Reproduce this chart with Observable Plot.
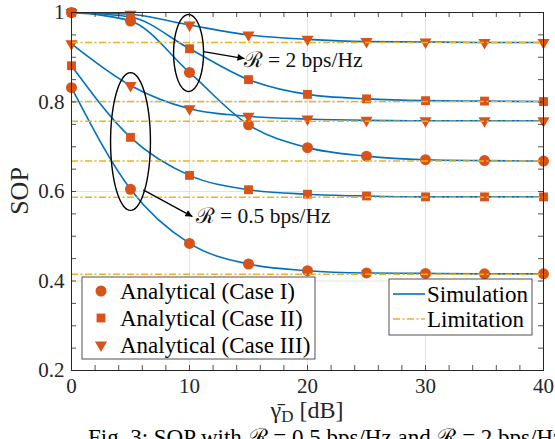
<!DOCTYPE html>
<html><head><meta charset="utf-8">
<script src="https://cdn.jsdelivr.net/npm/d3@7"></script>
<script src="https://cdn.jsdelivr.net/npm/@observablehq/plot@0.6"></script>
<style>
html,body{margin:0;padding:0;background:#fff;overflow:hidden;width:555px;height:439px;}
#chart{position:absolute;left:0;top:0;}
#chart svg, #chart svg text{font-family:"Liberation Serif",serif;}
#caption{font-family:"Liberation Serif",serif;font-size:23px;line-height:23px;position:absolute;left:88px;top:426px;white-space:nowrap;color:#000;}
</style></head><body>
<div id="chart"></div>
<div id="caption">Fig. 3: SOP with ℛ = 0.5 bps/Hz and ℛ = 2 bps/Hz.</div>
<script>
// ---- data ----
const snr = [0, 5, 10, 15, 20, 25, 30, 35, 40];
// R = 2 bps/Hz
const sopR2CaseI   = [1.000, 0.981, 0.866, 0.749, 0.698, 0.679, 0.671, 0.669, 0.668];
const sopR2CaseII  = [1.000, 0.990, 0.919, 0.850, 0.817, 0.807, 0.803, 0.802, 0.801];
const sopR2CaseIII = [1.000, 0.996, 0.972, 0.950, 0.940, 0.935, 0.934, 0.933, 0.933];
// R = 0.5 bps/Hz
const sopR05CaseI   = [0.832, 0.605, 0.484, 0.438, 0.423, 0.418, 0.417, 0.416, 0.416];
const sopR05CaseII  = [0.881, 0.721, 0.636, 0.604, 0.594, 0.590, 0.588, 0.588, 0.588];
const sopR05CaseIII = [0.930, 0.837, 0.785, 0.768, 0.762, 0.759, 0.758, 0.758, 0.758];
// asymptotic limits (Case I, II, III)
const limitR2  = [0.668, 0.801, 0.933];
const limitR05 = [0.415, 0.587, 0.757];

const caseNames = ["Case I", "Case II", "Case III"];
const legendLabels = ["Analytical (Case I)", "Analytical (Case II)", "Analytical (Case III)"];
const xTicks = [0, 10, 20, 30, 40];
const yTicks = [0.2, 0.4, 0.6, 0.8, 1.0];

// annotations (data units)
const ellipseCx = [9.92, 5.0];
const ellipseCy = [0.9095, 0.7117];
const ellipseRx = [1.27, 1.69];
const ellipseRy = [0.086, 0.154];
const arrowX1 = [11.19, 6.08];
const arrowY1 = [0.9128, 0.6037];
const arrowX2 = [14.66, 10.25];
const arrowY2 = [0.8970, 0.5440];
const noteX = [14.58, 10.51];
const noteY = [0.8793, 0.5285];
const noteText = ["ℛ = 2 bps/Hz", "ℛ = 0.5 bps/Hz"];

// ---- build tables ----
const seriesList = [
  {rate: "R2", c: 0, v: sopR2CaseI}, {rate: "R2", c: 1, v: sopR2CaseII}, {rate: "R2", c: 2, v: sopR2CaseIII},
  {rate: "R05", c: 0, v: sopR05CaseI}, {rate: "R05", c: 1, v: sopR05CaseII}, {rate: "R05", c: 2, v: sopR05CaseIII}
];
const rows = seriesList.flatMap(s => s.v.map((y, i) => ({x: snr[i], y, key: s.rate + s.c, c: caseNames[s.c]})));
const limits = [...limitR2, ...limitR05];

const ellipsePts = ellipseCx.flatMap((cx, k) => d3.range(0, 73).map(i => {
  const t = i / 72 * 2 * Math.PI;
  return {k, x: cx + ellipseRx[k] * Math.cos(t), y: ellipseCy[k] + ellipseRy[k] * Math.sin(t)};
}));
const arrows = arrowX1.map((x1, i) => ({x1, y1: arrowY1[i], x2: arrowX2[i], y2: arrowY2[i]}));
const notes = noteX.map((x, i) => ({x, y: noteY[i], t: noteText[i]}));

const W = 555, H = 425, ML = 71, MR = 12, MT = 12, MB = 55;
const PW = W - ML - MR, PH = H - MT - MB;
const TL = 5;
const ink = "#262626";
const orange = "#D95319", blue = "#0072BD", yellow = "#EDB120";
const font = "'Liberation Serif', serif";

const plot = Plot.plot({
  width: W, height: H,
  marginLeft: ML, marginRight: MR, marginTop: MT, marginBottom: MB,
  style: {fontFamily: font, background: "#fff", overflow: "visible"},
  x: {domain: [0, 40]},
  y: {domain: [0.2, 1]},
  marks: [
    Plot.gridX([10, 20, 30], {stroke: "#e3e3e3", strokeOpacity: 1, strokeWidth: 1}),
    Plot.gridY([0.4, 0.6, 0.8], {stroke: "#e3e3e3", strokeOpacity: 1, strokeWidth: 1}),
    Plot.line(rows, {x: "x", y: "y", z: "key", stroke: blue, strokeWidth: 1.6, curve: "monotone-x"}),
    Plot.dot(rows.filter(d => d.c === "Case II"), {x: "x", y: "y", symbol: "square", r: 5, fill: orange}),
    Plot.dot(rows.filter(d => d.c === "Case III"), {x: "x", y: "y", symbol: "triangle", rotate: 180, r: 4.5, fill: orange}),
    Plot.dot(rows.filter(d => d.c === "Case I"), {x: "x", y: "y", symbol: "circle", r: 5.5, fill: orange}),
    Plot.ruleY(limits, {stroke: yellow, strokeWidth: 1.6, strokeDasharray: "7,2.5,2,2.5"}),
    Plot.line(ellipsePts, {x: "x", y: "y", z: "k", stroke: "#000", strokeWidth: 1.4, curve: "linear-closed"}),
    Plot.link(arrows, {x1: "x1", y1: "y1", x2: "x2", y2: "y2", stroke: "#000", strokeWidth: 1.3}),
    Plot.text(notes, {x: "x", y: "y", text: "t", textAnchor: "start", lineAnchor: "bottom", fontSize: 21.5, fill: "#111"}),
    // inward ticks on all four sides
    Plot.tickX(d3.range(0, 41, 2), {x: d => d, insetTop: PH - TL, stroke: ink, strokeWidth: 0.8}),
    Plot.tickX(d3.range(0, 41, 2), {x: d => d, insetBottom: PH - TL, stroke: ink, strokeWidth: 0.8}),
    Plot.tickY(d3.range(0, 17).map(i => 0.2 + i * 0.05), {y: d => d, insetRight: PW - TL, stroke: ink, strokeWidth: 0.8}),
    Plot.tickY(d3.range(0, 17).map(i => 0.2 + i * 0.05), {y: d => d, insetLeft: PW - TL, stroke: ink, strokeWidth: 0.8}),
    Plot.frame({stroke: ink, strokeWidth: 1}),
    Plot.axisX(xTicks, {tickSize: 0, tickPadding: 8, fontSize: 21, fill: ink, label: null, tickFormat: d => String(d)}),
    Plot.axisY(yTicks, {tickSize: 0, tickPadding: 7, fontSize: 21, fill: ink, label: null, tickFormat: d => (Math.abs(d - 1) < 1e-9 ? "1" : d.toFixed(1))})
  ]
});
document.getElementById("chart").appendChild(plot);

const svg = d3.select(plot);
// arrowheads
const defs = svg.insert("defs", ":first-child");
defs.append("marker").attr("id", "ahead").attr("viewBox", "0 0 10 10").attr("refX", 10).attr("refY", 5)
  .attr("markerWidth", 10).attr("markerHeight", 7).attr("markerUnits", "userSpaceOnUse").attr("orient", "auto")
  .append("path").attr("d", "M0,0L10,5L0,10z").attr("fill", "#000");
svg.selectAll('g[aria-label="link"] path').attr("marker-end", "url(#ahead)");

// axis titles
svg.append("text").attr("transform", "translate(28,191) rotate(-90)").attr("text-anchor", "middle")
  .attr("font-size", 26).attr("fill", ink).text("SOP");
const xl = svg.append("text").attr("x", 307).attr("y", 418).attr("text-anchor", "middle")
  .attr("font-size", 24).attr("fill", ink);
xl.append("tspan").text("γ\u0304");
xl.append("tspan").attr("font-size", 17).attr("dy", 4).text("D");
xl.append("tspan").attr("dy", -4).text(" [dB]");

// legend 1 (analytical markers)
const lg1 = svg.append("g").attr("text-anchor", "start");
lg1.append("rect").attr("x", 82).attr("y", 277).attr("width", 233).attr("height", 82)
  .attr("fill", "#fff").attr("stroke", ink).attr("stroke-width", 0.8);
const symY = [291, 318, 345];
const symbols = [d3.symbolCircle, d3.symbolSquare, d3.symbolTriangle];
const symR = [5.5, 5, 4.5];
legendLabels.forEach((lab, i) => {
  lg1.append("path").attr("d", d3.symbol(symbols[i], Math.PI * symR[i] * symR[i])())
    .attr("transform", `translate(101,${symY[i]})` + (i === 2 ? " rotate(180)" : ""))
    .attr("fill", orange);
  lg1.append("text").attr("x", 120).attr("y", symY[i]).attr("dy", "0.35em").attr("text-anchor", "start")
    .attr("font-size", 23).attr("fill", "#000").text(lab);
});
// legend 2 (lines)
const lg2 = svg.append("g").attr("text-anchor", "start");
lg2.append("rect").attr("x", 389).attr("y", 279).attr("width", 143).attr("height", 56)
  .attr("fill", "#fff").attr("stroke", ink).attr("stroke-width", 0.8);
const lineLabels = ["Simulation", "Limitation"];
const lineY = [294, 319];
lineLabels.forEach((lab, i) => {
  lg2.append("line").attr("x1", 393).attr("x2", 425).attr("y1", lineY[i]).attr("y2", lineY[i])
    .attr("stroke", i === 0 ? blue : yellow).attr("stroke-width", 1.6)
    .attr("stroke-dasharray", i === 0 ? null : "7,2.5,2,2.5");
  lg2.append("text").attr("x", 427).attr("y", lineY[i]).attr("dy", "0.35em").attr("text-anchor", "start")
    .attr("font-size", 23).attr("fill", "#000").text(lab);
});
</script>
</body></html>
